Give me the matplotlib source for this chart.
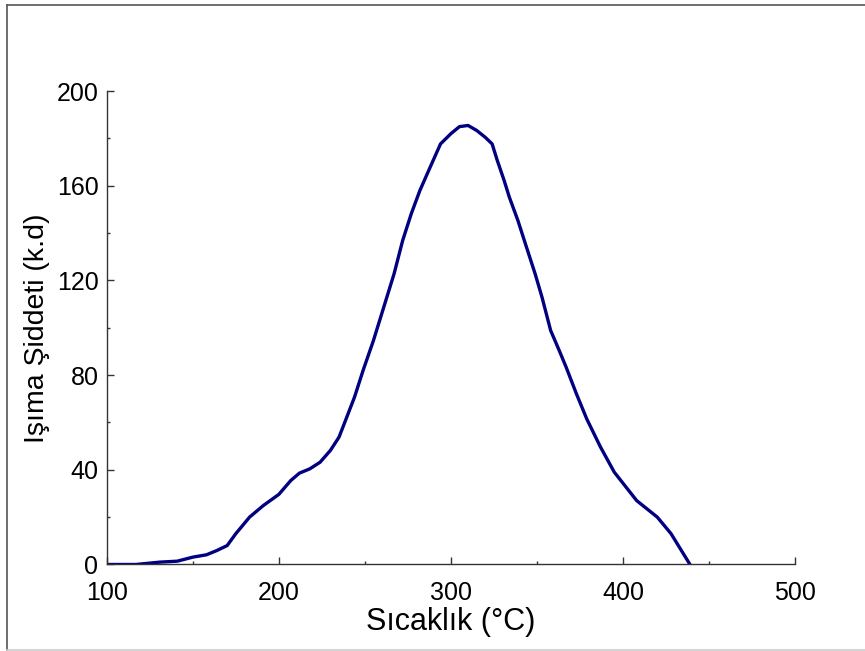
import matplotlib.pyplot as plt
import matplotlib.ticker as mticker
from matplotlib.lines import Line2D

# -------------------------------------------------------
# Daten
# -------------------------------------------------------
sicaklik = [100, 117, 131, 141, 150, 158, 164, 170, 175, 183, 191, 200, 207, 212,
            218, 224, 230, 235, 238, 244, 249, 255, 261, 267, 272, 277, 282, 288,
            294, 300, 305, 310, 315, 320, 324, 327, 331, 334, 339, 344, 349, 353,
            358, 363, 367, 373, 379, 387, 395, 408, 420, 428, 439]
siddet = [0, 0, 1, 1.4, 3.1, 4.1, 5.9, 8, 13, 20, 24.9, 29.6, 35.5, 38.6,
          40.4, 43.2, 48.2, 53.8, 59.4, 70.7, 82, 94.6, 108.7, 122.8, 136.9, 148.2, 158, 167.9,
          177.7, 182, 185, 185.5, 183.4, 180.5, 177.7, 170.7, 162.2, 155.2, 145.3, 134, 122.8, 112.9,
          98.9, 90.4, 83.4, 72.1, 61.5, 49.6, 39, 27, 20, 13, 0]

plt.rcParams['font.family'] = ['Liberation Sans', 'DejaVu Sans']

fig = plt.figure(figsize=(8.65, 6.51), dpi=100)
ax = fig.add_axes([0.1234, 0.1329, 0.7956, 0.7271])

ax.plot(sicaklik, siddet, color='#000080', lw=2.4, solid_joinstyle='round',
        solid_capstyle='round')

ax.set_xlim(100, 500)
ax.set_ylim(0, 200)
ax.xaxis.set_major_locator(mticker.MultipleLocator(100))
ax.xaxis.set_minor_locator(mticker.MultipleLocator(50))
ax.yaxis.set_major_locator(mticker.MultipleLocator(40))
ax.yaxis.set_minor_locator(mticker.MultipleLocator(20))

for s in ['top', 'right']:
    ax.spines[s].set_visible(False)
for s in ['left', 'bottom']:
    ax.spines[s].set_color('#333333')
    ax.spines[s].set_linewidth(1.0)

ax.tick_params(which='both', direction='in', color='#333333', width=1.0,
               labelsize=18)
ax.tick_params(which='major', length=4.8)
ax.tick_params(which='minor', length=2.4)
ax.tick_params(axis='x', which='major', pad=12)
ax.tick_params(axis='y', which='major', pad=6)

ax.set_xlabel('Sıcaklık (°C)', fontsize=22, labelpad=1)
ax.set_ylabel('Işıma Şiddeti (k.d)', fontsize=20.5, labelpad=5)

# Rahmen um die Grafik
fig.add_artist(Line2D([0.0081, 0.0081], [0.0015, 0.9923], color='#555555', lw=1.2))
fig.add_artist(Line2D([0.0081, 1.0], [0.9923, 0.9923], color='#555555', lw=1.2))
fig.add_artist(Line2D([0.0081, 1.0], [0.0015, 0.0015], color='#cccccc', lw=1.2))

fig.savefig('out.png', dpi=100)
